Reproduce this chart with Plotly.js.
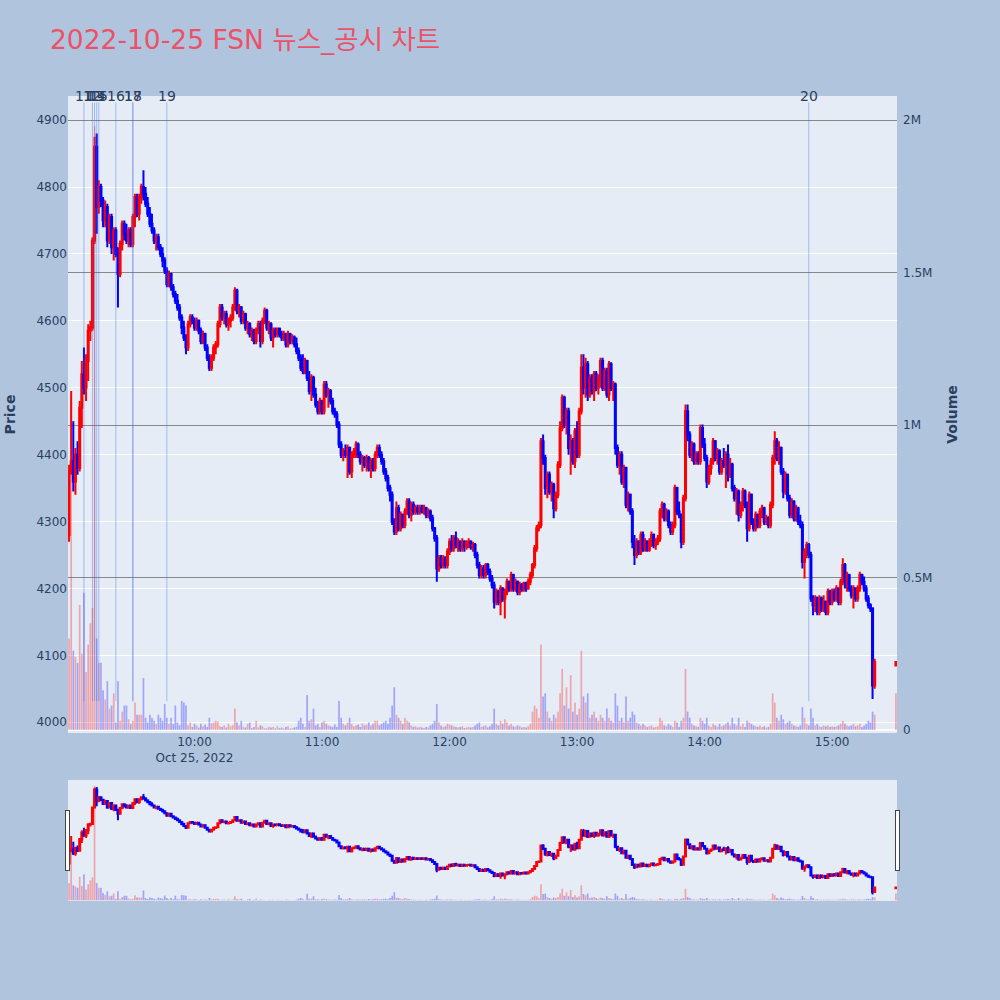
<!DOCTYPE html>
<html><head><meta charset="utf-8">
<script src="https://cdn.plot.ly/plotly-3.0.1.min.js"></script>
<style>html,body{margin:0;padding:0;background:#B0C4DE}</style>
</head><body><div id="chart" style="width:1000px;height:1000px"></div>
<script>
const tradeDate = "2022-10-25";
const times = [
"09:01","09:02","09:03","09:04","09:05","09:06","09:07","09:08","09:09","09:10",
"09:11","09:12","09:13","09:14","09:15","09:16","09:17","09:18","09:19","09:20",
"09:21","09:22","09:23","09:24","09:25","09:26","09:27","09:28","09:29","09:30",
"09:31","09:32","09:33","09:34","09:35","09:36","09:37","09:38","09:39","09:40",
"09:41","09:42","09:43","09:44","09:45","09:46","09:47","09:48","09:49","09:50",
"09:51","09:52","09:53","09:54","09:55","09:56","09:57","09:58","09:59","10:00",
"10:01","10:02","10:03","10:04","10:05","10:06","10:07","10:08","10:09","10:10",
"10:11","10:12","10:13","10:14","10:15","10:16","10:17","10:18","10:19","10:20",
"10:21","10:22","10:23","10:24","10:25","10:26","10:27","10:28","10:29","10:30",
"10:31","10:32","10:33","10:34","10:35","10:36","10:37","10:38","10:39","10:40",
"10:41","10:42","10:43","10:44","10:45","10:46","10:47","10:48","10:49","10:50",
"10:51","10:52","10:53","10:54","10:55","10:56","10:57","10:58","10:59","11:00",
"11:01","11:02","11:03","11:04","11:05","11:06","11:07","11:08","11:09","11:10",
"11:11","11:12","11:13","11:14","11:15","11:16","11:17","11:18","11:19","11:20",
"11:21","11:22","11:23","11:24","11:25","11:26","11:27","11:28","11:29","11:30",
"11:31","11:32","11:33","11:34","11:35","11:36","11:37","11:38","11:39","11:40",
"11:41","11:42","11:43","11:44","11:45","11:46","11:47","11:48","11:49","11:50",
"11:51","11:52","11:53","11:54","11:55","11:56","11:57","11:58","11:59","12:00",
"12:01","12:02","12:03","12:04","12:05","12:06","12:07","12:08","12:09","12:10",
"12:11","12:12","12:13","12:14","12:15","12:16","12:17","12:18","12:19","12:20",
"12:21","12:22","12:23","12:24","12:25","12:26","12:27","12:28","12:29","12:30",
"12:31","12:32","12:33","12:34","12:35","12:36","12:37","12:38","12:39","12:40",
"12:41","12:42","12:43","12:44","12:45","12:46","12:47","12:48","12:49","12:50",
"12:51","12:52","12:53","12:54","12:55","12:56","12:57","12:58","12:59","13:00",
"13:01","13:02","13:03","13:04","13:05","13:06","13:07","13:08","13:09","13:10",
"13:11","13:12","13:13","13:14","13:15","13:16","13:17","13:18","13:19","13:20",
"13:21","13:22","13:23","13:24","13:25","13:26","13:27","13:28","13:29","13:30",
"13:31","13:32","13:33","13:34","13:35","13:36","13:37","13:38","13:39","13:40",
"13:41","13:42","13:43","13:44","13:45","13:46","13:47","13:48","13:49","13:50",
"13:51","13:52","13:53","13:54","13:55","13:56","13:57","13:58","13:59","14:00",
"14:01","14:02","14:03","14:04","14:05","14:06","14:07","14:08","14:09","14:10",
"14:11","14:12","14:13","14:14","14:15","14:16","14:17","14:18","14:19","14:20",
"14:21","14:22","14:23","14:24","14:25","14:26","14:27","14:28","14:29","14:30",
"14:31","14:32","14:33","14:34","14:35","14:36","14:37","14:38","14:39","14:40",
"14:41","14:42","14:43","14:44","14:45","14:46","14:47","14:48","14:49","14:50",
"14:51","14:52","14:53","14:54","14:55","14:56","14:57","14:58","14:59","15:00",
"15:01","15:02","15:03","15:04","15:05","15:06","15:07","15:08","15:09","15:10",
"15:11","15:12","15:13","15:14","15:15","15:16","15:17","15:18","15:19","15:20",
"15:30"];

const openPrices = [
4280,4375,4390,4360,4400,4380,4470,4520,4500,4540,
4585,4590,4720,4860,4770,4800,4780,4750,4770,4720,
4755,4710,4735,4700,4670,4715,4745,4730,4720,4735,
4715,4755,4785,4760,4785,4800,4790,4775,4760,4745,
4735,4720,4725,4710,4700,4690,4675,4655,4670,4650,
4640,4630,4620,4605,4590,4575,4560,4595,4605,4600,
4590,4600,4585,4570,4580,4560,4545,4530,4545,4560,
4565,4595,4620,4605,4610,4595,4600,4605,4620,4645,
4615,4620,4600,4610,4590,4595,4580,4585,4570,4585,
4595,4570,4600,4615,4590,4595,4575,4585,4580,4588,
4580,4575,4580,4565,4580,4570,4575,4565,4555,4545,
4530,4525,4540,4515,4495,4515,4490,4475,4465,4480,
4465,4505,4490,4495,4480,4465,4460,4445,4415,4400,
4405,4400,4410,4375,4400,4405,4415,4400,4390,4395,
4385,4395,4380,4390,4380,4400,4410,4400,4390,4375,
4365,4350,4340,4300,4285,4320,4290,4310,4295,4315,
4330,4310,4325,4315,4320,4315,4320,4315,4320,4310,
4315,4305,4290,4275,4230,4245,4235,4245,4235,4255,
4270,4260,4275,4265,4270,4260,4270,4262,4268,4270,
4262,4265,4250,4235,4220,4230,4220,4235,4225,4215,
4205,4180,4195,4180,4200,4185,4195,4210,4200,4220,
4200,4210,4195,4205,4200,4208,4200,4210,4220,4235,
4260,4290,4295,4420,4395,4350,4370,4345,4355,4320,
4340,4385,4440,4485,4445,4465,4410,4420,4390,4435,
4400,4465,4530,4500,4535,4490,4515,4495,4520,4500,
4510,4540,4500,4525,4490,4535,4500,4505,4410,4385,
4400,4360,4380,4325,4340,4315,4270,4250,4270,4255,
4280,4260,4270,4258,4270,4280,4265,4270,4275,4315,
4325,4305,4315,4295,4285,4295,4350,4315,4310,4270,
4335,4465,4430,4400,4415,4390,4400,4390,4440,4415,
4395,4360,4380,4390,4420,4395,4405,4375,4390,4385,
4400,4370,4385,4350,4335,4345,4310,4325,4345,4325,
4290,4340,4300,4290,4310,4295,4315,4320,4300,4305,
4295,4325,4395,4420,4395,4410,4375,4345,4370,4335,
4310,4330,4305,4320,4300,4295,4240,4255,4265,4250,
4185,4175,4185,4165,4185,4170,4180,4165,4195,4180,
4195,4185,4200,4180,4210,4235,4210,4220,4200,4190,
4200,4185,4200,4220,4210,4200,4185,4175,4170,4055,
4085];

const highPrices = [
4385,4495,4450,4410,4420,4480,4540,4560,4550,4595,
4600,4725,4875,4880,4810,4805,4785,4780,4775,4760,
4760,4740,4740,4710,4720,4750,4750,4745,4740,4740,
4760,4790,4790,4790,4805,4825,4800,4785,4770,4760,
4740,4730,4730,4715,4710,4695,4680,4675,4672,4655,
4645,4640,4625,4610,4600,4580,4600,4610,4610,4605,
4605,4602,4590,4585,4582,4565,4550,4550,4565,4570,
4600,4625,4625,4615,4615,4605,4610,4625,4650,4648,
4625,4622,4615,4612,4600,4598,4590,4588,4590,4600,
4600,4605,4620,4618,4600,4598,4590,4590,4590,4590,
4585,4585,4582,4585,4582,4580,4578,4575,4560,4550,
4550,4545,4542,4525,4520,4518,4500,4480,4485,4482,
4510,4510,4500,4498,4485,4470,4465,4450,4420,4410,
4415,4415,4412,4405,4410,4420,4418,4405,4400,4398,
4400,4398,4395,4395,4405,4415,4415,4405,4395,4380,
4370,4355,4345,4305,4330,4325,4315,4312,4320,4335,
4335,4330,4330,4325,4325,4325,4325,4325,4322,4320,
4318,4310,4292,4280,4250,4250,4250,4248,4260,4275,
4280,4280,4285,4275,4272,4275,4272,4272,4275,4272,
4270,4268,4255,4240,4235,4235,4238,4238,4230,4220,
4210,4200,4198,4205,4202,4200,4215,4212,4225,4222,
4215,4212,4210,4208,4210,4210,4215,4225,4238,4265,
4295,4300,4425,4430,4400,4375,4375,4360,4358,4345,
4390,4450,4490,4488,4470,4470,4430,4425,4440,4450,
4470,4550,4550,4545,4540,4520,4520,4525,4525,4520,
4545,4545,4530,4530,4540,4538,4510,4508,4415,4405,
4405,4385,4382,4345,4342,4320,4280,4275,4272,4285,
4285,4275,4272,4275,4285,4282,4275,4280,4320,4330,
4328,4320,4318,4300,4300,4355,4352,4330,4312,4340,
4475,4475,4435,4420,4418,4405,4405,4445,4445,4425,
4400,4385,4395,4425,4422,4410,4408,4395,4410,4405,
4415,4395,4388,4355,4350,4348,4330,4350,4348,4330,
4345,4342,4305,4315,4312,4320,4325,4322,4310,4308,
4330,4400,4435,4425,4420,4412,4380,4375,4372,4340,
4335,4332,4325,4322,4310,4300,4260,4270,4268,4255,
4190,4190,4188,4190,4188,4190,4182,4200,4198,4200,
4200,4205,4202,4215,4245,4238,4225,4222,4205,4205,
4202,4205,4225,4222,4218,4205,4190,4178,4172,4095,
4090];

const lowPrices = [
4270,4370,4345,4340,4370,4375,4440,4490,4480,4510,
4570,4585,4715,4730,4760,4770,4740,4740,4710,4715,
4700,4690,4695,4620,4665,4705,4720,4715,4710,4710,
4710,4740,4755,4750,4775,4780,4770,4755,4740,4730,
4715,4705,4705,4695,4680,4670,4650,4650,4645,4635,
4625,4615,4600,4580,4570,4550,4555,4590,4595,4585,
4585,4580,4565,4565,4555,4540,4525,4525,4540,4550,
4560,4590,4600,4595,4590,4585,4590,4600,4615,4610,
4605,4595,4595,4585,4580,4575,4570,4565,4565,4580,
4560,4565,4595,4585,4580,4570,4560,4575,4575,4575,
4570,4570,4560,4560,4565,4565,4560,4550,4540,4525,
4520,4520,4510,4490,4480,4485,4470,4460,4460,4460,
4460,4485,4470,4475,4460,4455,4440,4410,4395,4390,
4395,4365,4370,4365,4395,4395,4395,4385,4375,4380,
4375,4375,4365,4375,4375,4395,4395,4385,4370,4360,
4345,4330,4295,4280,4280,4285,4285,4290,4290,4310,
4305,4300,4310,4310,4310,4310,4312,4310,4305,4305,
4300,4285,4270,4210,4225,4230,4230,4230,4230,4250,
4255,4255,4260,4255,4255,4255,4255,4258,4260,4258,
4255,4245,4230,4215,4215,4215,4215,4220,4210,4200,
4170,4175,4175,4160,4180,4155,4190,4195,4195,4195,
4195,4190,4190,4195,4195,4195,4198,4205,4215,4230,
4255,4285,4290,4385,4340,4335,4340,4330,4305,4315,
4335,4380,4435,4440,4430,4400,4370,4385,4380,4395,
4395,4460,4490,4485,4480,4485,4490,4480,4495,4490,
4500,4495,4495,4485,4480,4495,4480,4400,4380,4370,
4355,4350,4320,4315,4310,4260,4235,4245,4250,4250,
4255,4255,4255,4255,4262,4260,4258,4265,4270,4305,
4300,4300,4290,4280,4280,4290,4310,4305,4260,4265,
4330,4420,4395,4390,4385,4385,4385,4385,4410,4390,
4350,4355,4370,4385,4390,4385,4370,4370,4380,4350,
4360,4365,4345,4330,4310,4300,4305,4315,4320,4270,
4285,4295,4285,4285,4290,4290,4305,4295,4295,4290,
4290,4320,4385,4390,4385,4370,4335,4340,4330,4305,
4305,4300,4300,4295,4290,4230,4215,4245,4245,4180,
4160,4165,4160,4160,4165,4165,4160,4160,4175,4175,
4180,4180,4175,4175,4205,4200,4195,4195,4185,4170,
4180,4180,4195,4205,4195,4180,4170,4165,4035,4050,
4085];

const closePrices = [
4375,4390,4360,4400,4380,4470,4520,4500,4540,4585,
4590,4720,4860,4770,4800,4780,4750,4770,4720,4755,
4710,4735,4700,4670,4715,4745,4730,4720,4735,4715,
4755,4785,4760,4785,4800,4790,4775,4760,4745,4735,
4720,4725,4710,4700,4690,4675,4655,4670,4650,4640,
4630,4620,4605,4590,4575,4560,4595,4605,4600,4590,
4600,4585,4570,4580,4560,4545,4530,4545,4560,4565,
4595,4620,4605,4610,4595,4600,4605,4620,4645,4615,
4620,4600,4610,4590,4595,4580,4585,4570,4585,4595,
4570,4600,4615,4590,4595,4575,4585,4580,4588,4580,
4575,4580,4565,4580,4570,4575,4565,4555,4545,4530,
4525,4540,4515,4495,4515,4490,4475,4465,4480,4465,
4505,4490,4495,4480,4465,4460,4445,4415,4400,4405,
4400,4410,4375,4400,4405,4415,4400,4390,4395,4385,
4395,4380,4390,4380,4400,4410,4400,4390,4375,4365,
4350,4340,4300,4285,4320,4290,4310,4295,4315,4330,
4310,4325,4315,4320,4315,4320,4315,4320,4310,4315,
4305,4290,4275,4230,4245,4235,4245,4235,4255,4270,
4260,4275,4265,4270,4260,4270,4262,4268,4270,4262,
4265,4250,4235,4220,4230,4220,4235,4225,4215,4205,
4180,4195,4180,4200,4185,4195,4210,4200,4220,4200,
4210,4195,4205,4200,4208,4200,4210,4220,4235,4260,
4290,4295,4420,4395,4350,4370,4345,4355,4320,4340,
4385,4440,4485,4445,4465,4410,4420,4390,4435,4400,
4465,4530,4500,4535,4490,4515,4495,4520,4500,4510,
4540,4500,4525,4490,4535,4500,4505,4410,4385,4400,
4360,4380,4325,4340,4315,4270,4250,4270,4255,4280,
4260,4270,4258,4270,4280,4265,4270,4275,4315,4325,
4305,4315,4295,4285,4295,4350,4315,4310,4270,4335,
4465,4430,4400,4415,4390,4400,4390,4440,4415,4395,
4360,4380,4390,4420,4395,4405,4375,4390,4385,4400,
4370,4385,4350,4335,4345,4310,4325,4345,4325,4290,
4340,4300,4290,4310,4295,4315,4320,4300,4305,4295,
4325,4395,4420,4395,4410,4375,4345,4370,4335,4310,
4330,4305,4320,4300,4295,4240,4255,4265,4250,4185,
4175,4185,4165,4185,4170,4180,4165,4195,4180,4195,
4185,4200,4180,4210,4235,4210,4220,4200,4190,4200,
4185,4200,4220,4210,4200,4185,4175,4170,4055,4090,
4090];

const volumes = [
300000,1100000,260000,240000,220000,410000,250000,450000,190000,280000,
350000,400000,1980000,300000,220000,220000,130000,100000,160000,70000,
80000,120000,25000,160000,30000,60000,80000,80000,35000,20000,
30000,90000,50000,50000,50000,170000,40000,25000,50000,40000,
30000,20000,50000,40000,30000,85000,40000,20000,40000,20000,
80000,25000,15000,95000,90000,80000,15000,25000,10000,20000,
15000,8000,20000,12000,18000,10000,40000,22000,25000,30000,
28000,12000,10000,15000,8000,20000,12000,15000,70000,25000,
15000,30000,10000,8000,20000,25000,6000,10000,30000,8000,
15000,12000,6000,5000,10000,8000,10000,5000,12000,6000,
8000,5000,10000,12000,4000,6000,8000,10000,30000,40000,
20000,10000,115000,30000,35000,70000,15000,20000,10000,25000,
30000,20000,15000,12000,10000,18000,10000,95000,40000,20000,
15000,25000,40000,20000,12000,15000,18000,10000,22000,15000,
18000,25000,15000,20000,30000,30000,15000,20000,25000,30000,
20000,40000,80000,140000,50000,40000,30000,20000,40000,30000,
25000,15000,10000,12000,8000,10000,8000,6000,10000,8000,
15000,20000,30000,85000,25000,15000,10000,12000,20000,18000,
15000,12000,10000,8000,10000,12000,6000,8000,10000,8000,
10000,15000,20000,25000,10000,12000,15000,8000,12000,20000,
70000,20000,15000,30000,20000,35000,25000,15000,20000,12000,
10000,15000,12000,8000,10000,8000,12000,20000,60000,80000,
70000,40000,280000,110000,120000,60000,40000,30000,50000,40000,
60000,120000,200000,80000,140000,70000,180000,60000,90000,50000,
70000,260000,110000,90000,120000,40000,50000,60000,40000,30000,
50000,40000,30000,70000,40000,30000,25000,120000,80000,30000,
40000,25000,110000,30000,40000,60000,50000,25000,20000,15000,
20000,15000,10000,12000,15000,8000,10000,12000,40000,30000,
15000,12000,20000,15000,10000,30000,25000,10000,30000,40000,
200000,60000,40000,20000,15000,12000,10000,40000,30000,20000,
40000,15000,10000,20000,15000,10000,20000,12000,15000,20000,
25000,15000,40000,20000,15000,40000,12000,20000,10000,30000,
25000,20000,15000,12000,10000,15000,10000,12000,8000,10000,
20000,120000,90000,40000,30000,50000,35000,20000,25000,30000,
20000,15000,12000,10000,15000,75000,40000,20000,15000,70000,
40000,15000,20000,12000,10000,15000,12000,15000,10000,12000,
10000,12000,15000,20000,30000,20000,15000,12000,15000,20000,
12000,15000,20000,10000,15000,20000,30000,25000,60000,50000,
120000];

const newsTimes = ["09:08","09:12","09:13","09:14","09:15","09:23","09:31","09:31","09:47","14:49"];
const newsLabels = ["11","12","13","14","15","16","17","18","19","20"];

const xs = times.map(t => tradeDate + " " + t + ":00");
const volColors = closePrices.map((c, i) => c >= openPrices[i] ? "rgba(255,0,0,0.3)" : "rgba(0,0,255,0.3)");

const candle = {
  type: "candlestick", x: xs, open: openPrices, high: highPrices, low: lowPrices, close: closePrices,
  increasing: {line: {color: "#FF0000", width: 2}, fillcolor: "#FF0000"},
  decreasing: {line: {color: "#0000FF", width: 2}, fillcolor: "#0000FF"},
  name: "Price", yaxis: "y", showlegend: false
};
const vol = {
  type: "bar", x: xs, y: volumes, marker: {color: volColors, line: {width: 0}},
  name: "Volume", yaxis: "y2", showlegend: false
};

const shapes = newsTimes.map(t => ({
  type: "line", xref: "x", yref: "paper",
  x0: tradeDate + " " + t + ":00", x1: tradeDate + " " + t + ":00",
  y0: 0.05, y1: 0.99,
  line: {color: "rgba(65,105,225,0.4)", width: 1}
}));
const annotations = newsTimes.map((t, i) => ({
  xref: "x", yref: "paper", x: tradeDate + " " + t + ":00", y: 1,
  text: newsLabels[i], showarrow: false, xanchor: "center", yanchor: "middle",
  font: {size: 14, color: "#2a3f5f"}
}));

const layout = {
  width: 1000, height: 1000,
  font: {family: "DejaVu Sans, Verdana, sans-serif", size: 12, color: "#2a3f5f"},
  paper_bgcolor: "#B0C4DE", plot_bgcolor: "#E5ECF6",
  margin: {l: 68, r: 103, t: 96, b: 100},
  title: {text: "2022-10-25 FSN 뉴스_공시 차트", x: 0.05, xanchor: "left", y: 0.96, yanchor: "middle",
          font: {size: 26.5, color: "#EB5268", family: "DejaVu Sans, Noto Sans CJK KR, sans-serif"}},
  showlegend: false,
  bargap: 0.2,
  xaxis: {type: "date", showgrid: false, zeroline: false, ticks: "",
          rangeslider: {visible: true, thickness: 0.15, bgcolor: "#E5ECF6"}},
  yaxis: {title: {text: "<b>Price</b>", font: {size: 14}, standoff: 17}, range: [3984, 4936],
          gridcolor: "#FFFFFF", gridwidth: 1, zeroline: false, ticks: "", side: "left"},
  yaxis2: {title: {text: "<b>Volume</b>", font: {size: 14}, standoff: 15}, overlaying: "y", side: "right",
           range: [-10000, 2079000], showgrid: true, gridcolor: "#888888", gridwidth: 1,
           zeroline: true, zerolinecolor: "#FFFFFF", zerolinewidth: 2, ticks: "", ticklabelstandoff: 5,
           tickvals: [0, 500000, 1000000, 1500000, 2000000], ticktext: ["0", "0.5M", "1M", "1.5M", "2M"]},
  shapes: shapes,
  annotations: annotations
};

Plotly.newPlot("chart", [vol, candle], layout, {displayModeBar: false});
</script>
</body></html>
